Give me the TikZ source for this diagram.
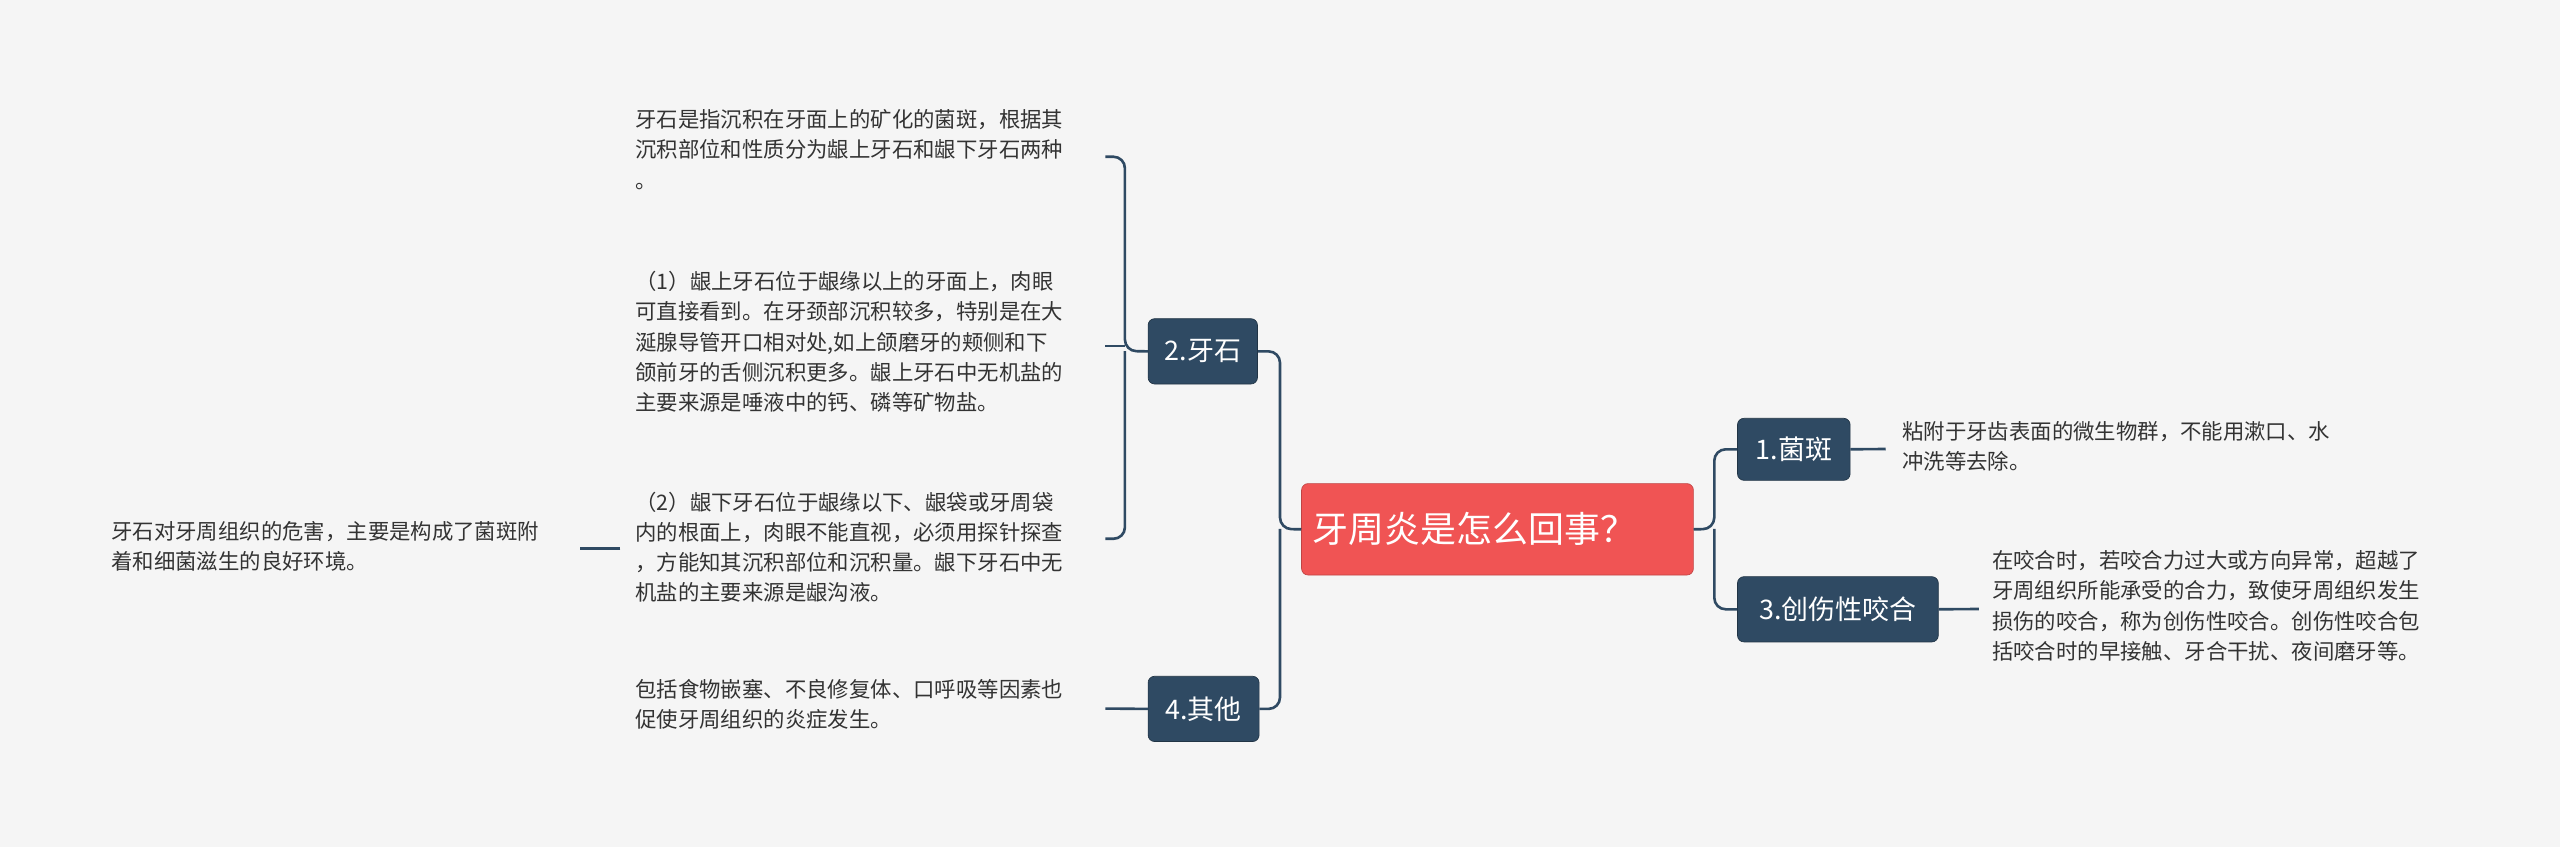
\documentclass[tikz,border=0pt]{standalone}
\usepackage{fontspec}
\newfontfamily\cjk{Noto Sans CJK SC}
\definecolor{bg}{HTML}{F5F5F5}
\definecolor{dk}{HTML}{2F4A63}
\definecolor{rd}{HTML}{F05454}
\definecolor{tx}{HTML}{333333}
\begin{document}
\begin{tikzpicture}[x=1pt,y=-1pt,
  topic/.style={draw=dk!70!black,fill=dk,rounded corners=4pt,text=white,font=\cjk\fontsize{16.5}{18}\selectfont,inner sep=0pt,anchor=north west},
  desc/.style={anchor=north west,align=left,inner sep=0pt,text=tx,font=\cjk\fontsize{13.1}{18.5}\selectfont},
  conn/.style={draw=dk,line width=1.6pt,rounded corners=7pt}]
\fill[bg] (0,0) rectangle (1568,519);
\useasboundingbox (0,0) rectangle (1568,519);
\node[draw=rd!80!black,fill=rd,rounded corners=4pt,text=white,font=\cjk\fontsize{22}{24}\selectfont,minimum width=240pt,minimum height=56pt,anchor=north west,inner sep=0pt,text width=226pt,align=left] (c) at (797,296) {牙周炎是怎么回事？};
\node[topic,minimum width=69pt,minimum height=38pt] (t1) at (1064,256) {1.菌斑};
\node[topic,minimum width=123pt,minimum height=40pt] (t3) at (1064,353) {3.创伤性咬合};
\node[topic,minimum width=67pt,minimum height=40pt] (t2) at (703,195) {2.牙石};
\node[topic,minimum width=68pt,minimum height=40pt] (t4) at (703,414) {4.其他};
\node[desc] (d1) at (1165,258) {粘附于牙齿表面的微生物群，不能用漱口、水\\冲洗等去除。};
\node[desc] (d3) at (1220,337) {在咬合时，若咬合力过大或方向异常，超越了\\牙周组织所能承受的合力，致使牙周组织发生\\损伤的咬合，称为创伤性咬合。创伤性咬合包\\括咬合时的早接触、牙合干扰、夜间磨牙等。};
\node[desc] (a1) at (389,67) {牙石是指沉积在牙面上的矿化的菌斑，根据其\\沉积部位和性质分为龈上牙石和龈下牙石两种\\。};
\node[desc] (a2) at (389,166) {（1）龈上牙石位于龈缘以上的牙面上，肉眼\\可直接看到。在牙颈部沉积较多，特别是在大\\涎腺导管开口相对处,如上颌磨牙的颊侧和下\\颌前牙的舌侧沉积更多。龈上牙石中无机盐的\\主要来源是唾液中的钙、磷等矿物盐。};
\node[desc] (a3) at (389,301) {（2）龈下牙石位于龈缘以下、龈袋或牙周袋\\内的根面上，肉眼不能直视，必须用探针探查\\，方能知其沉积部位和沉积量。龈下牙石中无\\机盐的主要来源是龈沟液。};
\node[desc] (a4) at (389,416) {包括食物嵌塞、不良修复体、口呼吸等因素也\\促使牙周组织的炎症发生。};
\node[desc] (f) at (68,319) {牙石对牙周组织的危害，主要是构成了菌斑附\\着和细菌滋生的良好环境。};
\coordinate (e1) at (677,96);
\coordinate (e2) at (677,212);
\coordinate (e3) at (677,330);
\coordinate (e4) at (677,434);
\coordinate (g1) at (1155,275);
\coordinate (g3) at (1212,373);
\coordinate (h1) at (380,336);
\coordinate (h2) at (355,336);
\draw[conn] (c.west) -- (784,324) |- (t2.east);
\draw[conn] (784,324) |- (t4.east);
\draw[conn] (c.east) -- (1050,324) |- (t1.west);
\draw[conn] (1050,324) |- (t3.west);
\draw[conn] (t2.west) -- (689,215) |- (e1);
\draw[conn] (689,215) |- (e3);
\draw[conn] (689,212) -- (e2);
\draw[conn] (t4.west) -- (e4);
\draw[conn] (t1.east) -- (g1);
\draw[conn] (t3.east) -- (g3);
\draw[conn] (h1) -- (h2);
\end{tikzpicture}
\end{document}
